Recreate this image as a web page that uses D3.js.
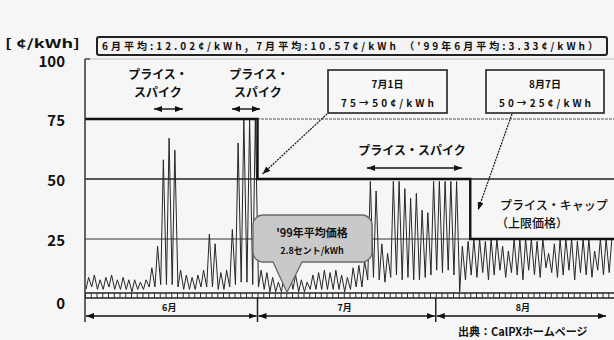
<!DOCTYPE html>
<html>
<head>
<meta charset="utf-8">
<script src="https://cdn.jsdelivr.net/npm/d3@7"></script>
<style>
  html, body { margin: 0; padding: 0; background: #f6f6f6; }
  svg { display: block; }
  text { font-family: "Noto Sans CJK JP", "Liberation Sans", sans-serif; fill: #111; }
</style>
</head>
<body>
<svg id="chart" width="614" height="340"></svg>
<script>
// Daily CalPX prices, summer 2000 (¢/kWh): daily peak and off-peak low
const months = ["6月", "7月", "8月"];
const monthDays = [30, 31, 31];

const junePeak = [9, 10, 8, 9, 10, 8, 9, 8, 8, 7, 8, 13, 22, 58, 67, 62, 12, 10, 9, 10, 12, 27, 23, 11, 12, 29, 65, 75, 75, 75];
const juneLow  = [4, 5, 4, 4, 5, 4, 4, 4, 3, 4, 4, 5, 5, 6, 6, 6, 5, 4, 4, 4, 5, 5, 5, 4, 4, 5, 6, 7, 7, 6];
const julyPeak = [12, 11, 9, 7, 10, 11, 10, 8, 7, 10, 11, 12, 11, 12, 10, 9, 13, 14, 16, 49, 45, 23, 19, 49, 49, 46, 42, 44, 37, 36, 49];
const julyLow  = [5, 4, 3, 3, 3, 4, 4, 3, 3, 4, 4, 4, 4, 4, 4, 3, 4, 5, 5, 8, 9, 8, 7, 9, 10, 8, 9, 8, 8, 9, 10];
const augPeak  = [49, 49, 49, 49, 22, 24, 25, 25, 24, 25, 25, 22, 20, 25, 25, 25, 25, 24, 25, 19, 23, 25, 25, 25, 24, 25, 25, 20, 25, 25, 25];
const augLow   = [12, 11, 12, 10, 3, 8, 10, 9, 11, 8, 10, 12, 9, 11, 10, 8, 12, 10, 9, 13, 11, 9, 10, 12, 8, 11, 10, 9, 12, 10, 11];

// hour of day used for the low and peak of each day
const lowHour = 4;
const peakHour = 15;

// price cap steps (day index from June 1)
const capStart = [0, 30, 67];
const capEnd   = [30, 67, 92];
const capValue = [75, 50, 25];

const yTicks = [0, 25, 50, 75, 100];
const avg99 = 2.8;

const unitLabel = "[ ¢/kWh]";
const headerText = "6月平均:12.02¢/kWh, 7月平均:10.57¢/kWh （'99年6月平均:3.33¢/kWh）";
const sourceText = "出典：CalPXホームページ";

// ---------------------------------------------------------------
const svg = d3.select("#chart");
const W = 614, H = 340;

const x = d3.scaleLinear().domain([0, 92]).range([85, 614]);
const y = d3.scaleLinear().domain([0, 100]).range([299, 59]);

const defs = svg.append("defs");
defs.append("marker")
  .attr("id", "head")
  .attr("viewBox", "0 0 8 6")
  .attr("refX", 8).attr("refY", 3)
  .attr("markerWidth", 8).attr("markerHeight", 6)
  .attr("markerUnits", "userSpaceOnUse")
  .attr("orient", "auto-start-reverse")
  .append("path").attr("d", "M0,0 L8,3 L0,6 Z").attr("fill", "#111");

svg.append("rect").attr("width", W).attr("height", H).attr("fill", "#f6f6f6");

// gridlines
const grid = svg.append("g");
grid.append("line")
  .attr("x1", x(0)).attr("x2", W).attr("y1", y(100)).attr("y2", y(100))
  .attr("stroke", "#bdbdbd").attr("stroke-width", 1);
grid.append("line")
  .attr("x1", x(0)).attr("x2", W).attr("y1", y(75)).attr("y2", y(75))
  .attr("stroke", "#8a8a8a").attr("stroke-width", 1.4).attr("stroke-dasharray", "3,1");
grid.append("line")
  .attr("x1", x(0)).attr("x2", W).attr("y1", y(50)).attr("y2", y(50))
  .attr("stroke", "#222").attr("stroke-width", 1.4);
grid.append("line")
  .attr("x1", x(0)).attr("x2", W).attr("y1", y(25)).attr("y2", y(25))
  .attr("stroke", "#333").attr("stroke-width", 1.2);

// price series: one low and one peak per day
const peaks = junePeak.concat(julyPeak, augPeak);
const lows = juneLow.concat(julyLow, augLow);
const pts = [];
peaks.forEach((p, i) => {
  pts.push({ t: i + lowHour / 24, v: lows[i] });
  pts.push({ t: i + peakHour / 24, v: p });
});
const line = d3.line().x(d => x(d.t)).y(d => y(d.v));
svg.append("path")
  .datum(pts)
  .attr("d", line)
  .attr("fill", "none")
  .attr("stroke", "#262626")
  .attr("stroke-width", 1)
  .attr("stroke-linejoin", "miter");

// price cap step line
const capPts = [];
capValue.forEach((c, i) => {
  capPts.push({ t: capStart[i], v: c });
  capPts.push({ t: capEnd[i], v: c });
});
svg.append("path")
  .datum(capPts)
  .attr("d", d3.line().x(d => x(d.t)).y(d => y(d.v)))
  .attr("fill", "none")
  .attr("stroke", "#111")
  .attr("stroke-width", 2.4);

// x axis band with daily ticks
const bandTop = 293, bandBot = 298;
const xAxis = d3.axisBottom(x).tickValues(d3.range(0, 93)).tickSize(bandBot - bandTop).tickFormat("");
const xg = svg.append("g").attr("transform", `translate(0,${bandTop})`).call(xAxis);
xg.select(".domain").remove();
xg.selectAll(".tick line").attr("stroke", "#333").attr("stroke-width", 1);
[bandTop, bandBot].forEach(yy => {
  svg.append("line").attr("x1", x(0)).attr("x2", W).attr("y1", yy).attr("y2", yy)
    .attr("stroke", "#222").attr("stroke-width", 1.3);
});

// y axis
svg.append("line").attr("x1", x(0)).attr("x2", x(0)).attr("y1", y(100)).attr("y2", 322)
  .attr("stroke", "#333").attr("stroke-width", 1.5);
svg.append("line").attr("x1", x(0)).attr("x2", x(0) + 5).attr("y1", y(100)).attr("y2", y(100))
  .attr("stroke", "#333").attr("stroke-width", 1.2);
const yAxis = d3.axisLeft(y).tickValues(yTicks).tickSize(0).tickPadding(20);
const yg = svg.append("g").attr("transform", `translate(${x(0)},0)`).call(yAxis);
yg.select(".domain").remove();
yg.selectAll(".tick text")
  .attr("font-family", "'Liberation Sans', Arial, sans-serif")
  .attr("font-size", 15).attr("font-weight", "bold").attr("fill", "#111")
  .attr("dy", d => d === 0 ? "0.62em" : d === 100 ? "0.5em" : "0.42em");

// month spans
const monthStart = [0];
monthDays.forEach((d, i) => monthStart.push(monthStart[i] + d));
const arrowY = 316;
months.forEach((m, i) => {
  const s = x(monthStart[i]);
  const e = Math.min(x(monthStart[i + 1]), 607);
  svg.append("line").attr("x1", s + 1).attr("x2", e - 1).attr("y1", arrowY).attr("y2", arrowY)
    .attr("stroke", "#111").attr("stroke-width", 1.4)
    .attr("marker-start", "url(#head)").attr("marker-end", "url(#head)");
  svg.append("text").attr("x", (x(monthStart[i]) + x(monthStart[i + 1])) / 2 - 2).attr("y", arrowY - 5)
    .attr("text-anchor", "middle").attr("font-size", 9).attr("font-weight", "bold").text(m);
});
monthStart.slice(1, 3).forEach(d => {
  svg.append("line").attr("x1", x(d)).attr("x2", x(d)).attr("y1", bandBot).attr("y2", 322)
    .attr("stroke", "#222").attr("stroke-width", 1.5);
});

// header
svg.append("text").attr("x", 5).attr("y", 48).attr("font-size", 12).attr("font-weight", "bold")
  .attr("textLength", 75).attr("lengthAdjust", "spacingAndGlyphs").text(unitLabel);
svg.append("rect").attr("x", 97).attr("y", 37).attr("width", 510).attr("height", 18)
  .attr("rx", 2).attr("fill", "#f3f3f3").attr("stroke", "#222").attr("stroke-width", 2);
svg.append("text").attr("x", 102).attr("y", 50).attr("font-size", 10).attr("font-weight", "bold")
  .attr("textLength", 496).attr("lengthAdjust", "spacing").text(headerText);

// price spike labels
function doubleArrow(x1, x2, yy) {
  svg.append("line").attr("x1", x1).attr("x2", x2).attr("y1", yy).attr("y2", yy)
    .attr("stroke", "#111").attr("stroke-width", 1.4)
    .attr("marker-start", "url(#head)").attr("marker-end", "url(#head)");
}
function label(txt, cx, yy, size, weight, anchor) {
  return svg.append("text").attr("x", cx).attr("y", yy).attr("text-anchor", anchor || "middle")
    .attr("font-size", size).attr("font-weight", weight || "bold").text(txt);
}
label("プライス・", 158, 79, 12);
label("スパイク", 158, 97, 12);
doubleArrow(154, 183, 109);
label("プライス・", 259, 79, 12);
label("スパイク", 258, 97, 12);
doubleArrow(232, 260, 109);
label("プライス・スパイク", 412, 155, 12);
doubleArrow(367, 462, 168);
label("プライス・キャップ", 500, 210, 12, 500, "start");
label("（上限価格）", 496, 228, 12, 500, "start");

// cap change notes
function noteBox(x0, x1, l1, l2) {
  svg.append("rect").attr("x", x0).attr("y", 70).attr("width", x1 - x0).attr("height", 43)
    .attr("fill", "#f8f8f8").attr("stroke", "#222").attr("stroke-width", 1.6);
  label(l1, (x0 + x1) / 2, 88, 10);
  svg.append("text").attr("x", (x0 + x1) / 2).attr("y", 107).attr("text-anchor", "middle")
    .attr("font-size", 10).attr("font-weight", "bold")
    .attr("textLength", x1 - x0 - 26).attr("lengthAdjust", "spacing").text(l2);
}
noteBox(328, 447, "7月1日", "75→50¢/kWh");
noteBox(486, 604, "8月7日", "50→25¢/kWh");
svg.append("line").attr("x1", 327).attr("y1", 114).attr("x2", x(30) + 5).attr("y2", y(50) - 5)
  .attr("stroke", "#222").attr("stroke-width", 1.3).attr("stroke-dasharray", "2,1")
  .attr("marker-end", "url(#head)");
svg.append("line").attr("x1", 512).attr("y1", 114).attr("x2", 478).attr("y2", 210)
  .attr("stroke", "#222").attr("stroke-width", 1.3).attr("stroke-dasharray", "2,1")
  .attr("marker-end", "url(#head)");

// 1999 average callout
const bx0 = 253, bx1 = 372, by0 = 215, by1 = 262, r = 10;
const tipX = 287, tipY = y(avg99);
const p = d3.path();
p.moveTo(bx0 + r, by0);
p.lineTo(bx1 - r, by0);
p.arcTo(bx1, by0, bx1, by0 + r, r);
p.lineTo(bx1, by1 - r);
p.arcTo(bx1, by1, bx1 - r, by1, r);
p.lineTo(302, by1);
p.lineTo(tipX, tipY);
p.lineTo(273, by1);
p.lineTo(bx0 + r, by1);
p.arcTo(bx0, by1, bx0, by1 - r, r);
p.lineTo(bx0, by0 + r);
p.arcTo(bx0, by0, bx0 + r, by0, r);
p.closePath();
svg.append("path").attr("d", p.toString()).attr("fill", "#c9c9c9").attr("stroke", "#6a6a6a").attr("stroke-width", 1.3);
label("'99年平均価格", 312, 237, 11);
label(avg99.toFixed(1) + "セント/kWh", 312, 254, 9);

// source
svg.append("text").attr("x", 458).attr("y", 336).attr("font-size", 11).attr("font-weight", "bold")
  .text(sourceText);
</script>
</body>
</html>
